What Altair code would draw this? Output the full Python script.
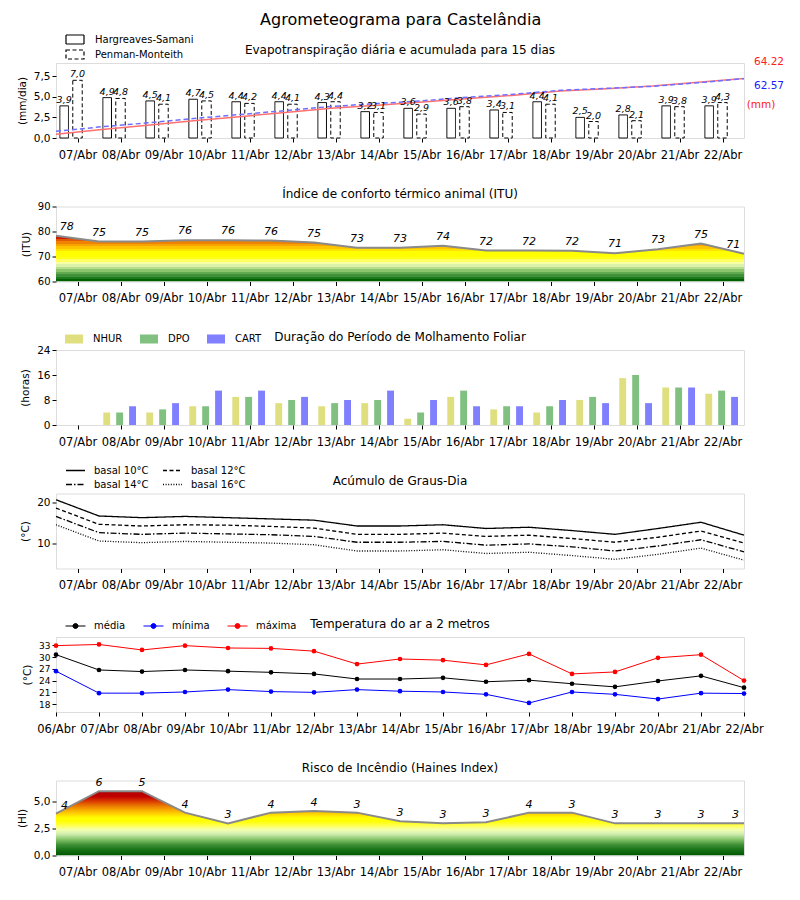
import json
import altair as alt
import pandas as pd

# ---------------- data ----------------
days16 = ["07/Abr", "08/Abr", "09/Abr", "10/Abr", "11/Abr", "12/Abr", "13/Abr", "14/Abr",
          "15/Abr", "16/Abr", "17/Abr", "18/Abr", "19/Abr", "20/Abr", "21/Abr", "22/Abr"]
days17 = ["06/Abr"] + days16

et_hs = [3.9, 4.9, 4.5, 4.7, 4.4, 4.4, 4.3, 3.2, 3.6, 3.6, 3.4, 4.4, 2.5, 2.8, 3.9, 3.9]
et_pm = [7.0, 4.8, 4.1, 4.5, 4.2, 4.1, 4.4, 3.1, 2.9, 3.8, 3.1, 4.1, 2.0, 2.1, 3.8, 4.3]
et_tot_labels = ["64.22", "62.57"]

itu_line = [78.3, 76.0, 76.0, 76.5, 76.5, 76.4, 75.6, 73.5, 73.5, 74.3, 72.4, 72.4, 72.3, 71.3, 72.9, 75.2, 71.1]
itu_lbl = [78, 75, 75, 76, 76, 76, 75, 73, 73, 74, 72, 72, 72, 71, 73, 75, 71]

nhur = [0, 4, 4, 6, 9, 7, 6, 7, 2, 9, 5, 4, 8, 15, 12, 10]
dpo = [0, 4, 5, 6, 9, 8, 7, 8, 4, 11, 6, 6, 9, 16, 12, 11]
cart = [0, 6, 7, 11, 11, 9, 8, 11, 8, 6, 6, 8, 7, 7, 12, 9]

gd10 = [20.6, 16.7, 16.3, 16.6, 16.3, 16.0, 15.7, 14.3, 14.3, 14.6, 13.7, 14.0, 13.2, 12.3, 13.7, 15.2, 12.1]
gd12 = [18.6, 14.7, 14.3, 14.6, 14.5, 14.2, 13.8, 12.3, 12.3, 12.6, 11.8, 12.1, 11.3, 10.4, 11.6, 13.1, 10.2]
gd14 = [16.6, 12.7, 12.3, 12.6, 12.4, 12.2, 11.8, 10.4, 10.4, 10.6, 9.7, 10.0, 9.3, 8.3, 9.5, 11.0, 8.1]
gd16 = [14.6, 10.7, 10.3, 10.6, 10.4, 10.2, 9.8, 8.3, 8.3, 8.6, 7.7, 8.0, 7.2, 6.3, 7.5, 9.0, 6.1]

t_med = [30.6, 26.7, 26.3, 26.7, 26.4, 26.1, 25.7, 24.4, 24.4, 24.7, 23.7, 24.1, 23.2, 22.4, 23.9, 25.2, 22.2]
t_min = [26.4, 20.8, 20.8, 21.1, 21.7, 21.2, 21.0, 21.7, 21.3, 21.1, 20.5, 18.3, 21.1, 20.5, 19.3, 20.8, 20.7]
t_max = [32.9, 33.2, 31.8, 32.9, 32.3, 32.2, 31.5, 28.2, 29.5, 29.2, 28.0, 30.8, 25.7, 26.2, 29.8, 30.6, 24.0]

hi_line = [3.9, 6.0, 6.0, 4.0, 3.0, 4.0, 4.15, 4.0, 3.2, 3.0, 3.1, 4.0, 4.0, 3.0, 3.0, 3.0, 3.0]
hi_lbl = [4, 6, 5, 4, 3, 4, 4, 3, 3, 3, 3, 4, 3, 3, 3, 3, 3]

panel_titles = ["Evapotranspiração diária e acumulada para 15 dias",
                "Índice de conforto térmico animal (ITU)",
                "Duração do Período de Molhamento Foliar",
                "Acúmulo de Graus-Dia",
                "Temperatura do ar a 2 metros",
                "Risco de Incêndio (Haines Index)"]

# ---------------- style ----------------
FONT = "DejaVu Sans"
W, H = 688, 75
XD16 = [-0.5, 15.5]
XD17 = [0, 16]
RECT = "M-1,-0.5L1,-0.5L1,0.5L-1,0.5Z"


def x_axis(labels):
    return alt.Axis(values=list(range(len(labels))),
                    labelExpr=json.dumps(labels) + "[round(datum.value)]",
                    grid=False, domain=False, ticks=True, tickSize=4, tickColor="black",
                    labelColor="black", labelFont=FONT, labelFontSize=11.5, labelPadding=7,
                    labelOverlap=False, labelFlush=False, title=None)


def y_axis(values, title, comma=False, size=10.5):
    kw = {}
    if comma:
        kw["labelExpr"] = "replace(format(datum.value, '.1f'), '.', ',')"
    return alt.Axis(values=values, title=title, grid=False, domain=False, tickSize=4,
                    tickColor="black", labelColor="black", labelFont=FONT, labelFontSize=size,
                    labelPadding=2, labelOverlap=False, labelFlush=False,
                    titleFont=FONT, titleFontSize=10.5, titleFontWeight="normal",
                    titleColor="black", titlePadding=6, **kw)


def title_layer(text):
    return alt.Chart(pd.DataFrame({"t": [text]})).mark_text(
        font=FONT, fontSize=12, color="black", baseline="middle", align="center"
    ).encode(text="t:N", x=alt.value(W / 2), y=alt.value(-13))


def xs(domain):
    return alt.Scale(domain=domain, nice=False, zero=False)


def gradient(stops, lo, hi):
    gs = [alt.GradientStop(color=c, offset=max(0.0, min(1.0, (v - lo) / (hi - lo)))) for v, c in stops]
    return alt.Gradient(gradient="linear", stops=gs, x1=0, x2=0, y1=1, y2=0)


def comma(v):
    return f"{v:.1f}".replace(".", ",")

# ---------------- panel 1: ET ----------------
series_et = ["Hargreaves-Samani", "Penman-Monteith"]
rows = []
for i, (h, p) in enumerate(zip(et_hs, et_pm)):
    rows.append(dict(serie=series_et[0], x0=i - 0.41, x1=i - 0.21, xc=i - 0.31, v=h, lbl=comma(h)))
    rows.append(dict(serie=series_et[1], x0=i - 0.11, x1=i + 0.11, xc=i, v=p, lbl=comma(p)))
et_df = pd.DataFrame(rows)

cum = []
for s, vals in zip(series_et, [et_hs, et_pm]):
    acc = 0.0
    for i, v in enumerate(vals):
        acc += v
        cum.append(dict(serie=s, xp=-0.5 + i * 16 / 15, c=acc))
cum_df = pd.DataFrame(cum)

ET_Y = alt.Scale(domain=[0, 9.1], nice=False, zero=True)
CUM_Y = alt.Scale(domain=[0, 78.7], nice=False)
AX1 = x_axis(days16)
ET_DASH = alt.Scale(domain=series_et, range=[[1, 0], [4, 2.5]])

et_bars = alt.Chart(et_df).mark_bar(fill="white", stroke="black", strokeWidth=1, cornerRadius=0).encode(
    x=alt.X("x0:Q", scale=xs(XD16), axis=AX1),
    x2="x1:Q",
    y=alt.Y("v:Q", scale=ET_Y, axis=y_axis([0, 2.5, 5, 7.5], "(mm/dia)", comma=True)),
    y2=alt.datum(0),
    strokeDash=alt.StrokeDash("serie:N", scale=ET_DASH, legend=None),
)
# empty layer that only carries the legend (outlined boxes)
et_leg = alt.Chart(et_df).transform_filter("false").mark_point(
    shape=RECT, filled=False, color="black", size=324, strokeWidth=1.2, opacity=1).encode(
    x=alt.X("xc:Q", scale=xs(XD16), axis=AX1),
    y=alt.Y("v:Q", scale=ET_Y, axis=None),
    strokeDash=alt.StrokeDash("serie:N", scale=ET_DASH, legend=alt.Legend(
        orient="none", legendX=9, legendY=-29, direction="vertical", title=None,
        symbolType=RECT, symbolSize=324, symbolFillColor="white",
        symbolStrokeColor="black", symbolStrokeWidth=1.2, labelFont=FONT, labelFontSize=10,
        labelColor="black", rowPadding=4, labelOffset=10, clipHeight=11)),
)
et_text = alt.Chart(et_df).mark_text(font=FONT, fontSize=9.5, fontStyle="italic", baseline="bottom",
                                     dy=-1, color="black").encode(
    x=alt.X("xc:Q", scale=xs(XD16), axis=AX1),
    y=alt.Y("v:Q", scale=ET_Y, axis=None),
    text="lbl:N",
)
et_line_h = alt.Chart(cum_df).transform_filter(alt.datum.serie == series_et[0]).mark_line(
    strokeWidth=1.5, color="#ff7070").encode(
    x=alt.X("xp:Q", scale=xs(XD16), axis=AX1),
    y=alt.Y("c:Q", scale=CUM_Y, axis=None),
)
et_line_p = alt.Chart(cum_df).transform_filter(alt.datum.serie == series_et[1]).mark_line(
    strokeWidth=1.5, color="#7070ff", strokeDash=[5, 3]).encode(
    x=alt.X("xp:Q", scale=xs(XD16), axis=AX1),
    y=alt.Y("c:Q", scale=CUM_Y, axis=None),
)
ann_df = pd.DataFrame(dict(t=et_tot_labels + ["(mm)"], c=["#ff2020", "#2020ff", "#ff2020"],
                           px=[W + 25, W + 25, W + 17], py=[-1, 23, 42]))
et_ann = alt.Chart(ann_df).mark_text(font=FONT, fontSize=10.5, align="center").encode(
    text="t:N",
    fill=alt.Fill("c:N", scale=None, legend=None),
    x=alt.X("px:Q", scale=None, axis=None),
    y=alt.Y("py:Q", scale=None, axis=None),
)
p1 = alt.layer(et_bars, et_line_h, et_line_p, et_text, et_ann, et_leg,
               title_layer(panel_titles[0])).resolve_scale(
    y="independent", strokeDash="independent"
).resolve_legend(strokeDash="independent").properties(width=W, height=H)

# ---------------- panel 2: ITU ----------------
itu_df = pd.DataFrame(dict(x=[i - 0.5 for i in range(17)], v=itu_line, lbl=[str(v) for v in itu_lbl]))
itu_df["lx"] = itu_df["x"].clip(-0.25, 15.25)
itu_bands = [(60, "#006000"), (61, "#006000"), (61, "#1f7a1f"), (62, "#1f7a1f"), (62, "#3f923a"),
             (63, "#3f923a"), (63, "#62ab50"), (64, "#62ab50"), (64, "#8cc66c"), (65, "#8cc66c"),
             (65, "#b6dd8c"), (66, "#b6dd8c"), (66, "#dcf2a8"), (67, "#dcf2a8"), (67, "#f6ffa6"),
             (68, "#f6ffa6"), (68, "#ffff60"), (69, "#ffff60"), (69, "#ffff1a"), (70, "#ffff1a"),
             (70, "#ffff00"), (72, "#ffff00"), (72, "#ffe200"), (73, "#ffe200"), (73, "#ffc400"),
             (74, "#ffc400"), (74, "#f7a400"), (75, "#f7a400"), (75, "#ef8200"), (76, "#ef8200"),
             (76, "#e25a00"), (77, "#e25a00"), (77, "#cc1a00"), (78, "#cc1a00"), (78, "#c00000"),
             (80, "#c00000")]
ITU_Y = alt.Scale(domain=[60, 90], nice=False, zero=False)
AX2 = x_axis(days16)
AY2 = y_axis([60, 70, 80, 90], "(ITU)", size=10)
itu_x = alt.X("x:Q", scale=xs(XD16), axis=AX2)
itu_y = alt.Y("v:Q", scale=ITU_Y, axis=AY2)
itu_area = alt.Chart(itu_df).mark_area(color=gradient(itu_bands, 60, max(itu_line)), clip=True).encode(
    x=itu_x, y=itu_y, y2=alt.datum(60))
itu_line_m = alt.Chart(itu_df).mark_line(color="#8a8a8a", strokeWidth=2).encode(x=itu_x, y=itu_y)
itu_text = alt.Chart(itu_df).mark_text(font=FONT, fontSize=11, fontStyle="italic", dy=-9,
                                       color="black").encode(
    x=alt.X("lx:Q", scale=xs(XD16), axis=AX2), y=itu_y, text="lbl:N")
p2 = alt.layer(itu_area, itu_line_m, itu_text, title_layer(panel_titles[1])).properties(width=W, height=H)

# ---------------- panel 3: Molhamento ----------------
series_m = ["NHUR", "DPO", "CART"]
offs = [-0.32, -0.02, 0.28]
rows = []
for i in range(16):
    for s, vals, o in zip(series_m, [nhur, dpo, cart], offs):
        rows.append(dict(serie=s, x0=i + o - 0.08, x1=i + o + 0.08, v=vals[i]))
m_df = pd.DataFrame(rows)
m_bars = alt.Chart(m_df).mark_rect().encode(
    x=alt.X("x0:Q", scale=xs(XD16), axis=x_axis(days16)),
    x2="x1:Q",
    y=alt.Y("v:Q", scale=alt.Scale(domain=[0, 24], nice=False), axis=y_axis([0, 8, 16, 24], "(horas)")),
    y2=alt.datum(0),
    color=alt.Color("serie:N", scale=alt.Scale(domain=series_m, range=["#dfdf80", "#80c080", "#8080ff"]),
                    legend=alt.Legend(orient="none", legendX=9, legendY=-17, direction="horizontal",
                                      title=None, symbolType=RECT, symbolSize=324,
                                      symbolStrokeWidth=0, labelFont=FONT, labelFontSize=10,
                                      labelColor="black", columnPadding=17, labelOffset=10,
                                      clipHeight=12)),
)
p3 = alt.layer(m_bars, title_layer(panel_titles[2])).properties(width=W, height=H)

# ---------------- panel 4: Graus-dia ----------------
series_g = ["basal 10°C", "basal 12°C", "basal 14°C", "basal 16°C"]
rows = []
for s, vals in zip(series_g, [gd10, gd12, gd14, gd16]):
    for i, v in enumerate(vals):
        rows.append(dict(serie=s, x=i - 0.5, v=v))
g_df = pd.DataFrame(rows)
g_lines = alt.Chart(g_df).mark_line(color="black", strokeWidth=1.3).encode(
    x=alt.X("x:Q", scale=xs(XD16), axis=x_axis(days16)),
    y=alt.Y("v:Q", scale=alt.Scale(domain=[4.1, 22.1], nice=False, zero=False),
            axis=y_axis([10, 20], "(°C)")),
    strokeDash=alt.StrokeDash("serie:N", scale=alt.Scale(
        domain=["basal 10°C", "basal 14°C", "basal 12°C", "basal 16°C"],
        range=[[1, 0], [6, 2, 1.5, 2], [4, 2.5], [1, 1.6]]),
        legend=alt.Legend(orient="none", legendX=9, legendY=-29, columns=2, title=None,
                          symbolType="stroke", symbolSize=361, symbolStrokeColor="black",
                          symbolStrokeWidth=1.3, labelFont=FONT, labelFontSize=10,
                          labelColor="black", columnPadding=13, rowPadding=2, labelOffset=8,
                          clipHeight=12)),
)
p4 = alt.layer(g_lines, title_layer(panel_titles[3])).properties(width=W, height=H)

# ---------------- panel 5: Temperatura ----------------
series_t = ["média", "mínima", "máxima"]
rows = []
for s, vals in zip(series_t, [t_med, t_min, t_max]):
    for i, v in enumerate(vals):
        rows.append(dict(serie=s, x=i, v=v))
t_df = pd.DataFrame(rows)
tcol = alt.Scale(domain=series_t, range=["#000000", "#0000ff", "#ff0000"])
T_Y = alt.Scale(domain=[16.0, 35.1], nice=False, zero=False)
AX5 = x_axis(days17)
AY5 = y_axis([18, 21, 24, 27, 30, 33], "(°C)", size=9)
t_leg = alt.Legend(orient="none", legendX=9, legendY=-17, direction="horizontal", title=None,
                   symbolType="M-1,0L1,0M-0.25,0A0.25,0.25,0,1,1,0.25,0A0.25,0.25,0,1,1,-0.25,0Z",
                   symbolSize=400, symbolStrokeWidth=1, labelFont=FONT, labelFontSize=10,
                   labelColor="black", columnPadding=17, labelOffset=8, clipHeight=12)
t_x = alt.X("x:Q", scale=xs(XD17), axis=AX5)
t_y = alt.Y("v:Q", scale=T_Y, axis=AY5)
t_lines = alt.Chart(t_df).mark_line(strokeWidth=1).encode(
    x=t_x, y=t_y, color=alt.Color("serie:N", scale=tcol, legend=t_leg))
t_pts = alt.Chart(t_df).mark_point(filled=True, size=22, opacity=1).encode(
    x=t_x, y=t_y, color=alt.Color("serie:N", scale=tcol, legend=t_leg))
p5 = alt.layer(t_lines, t_pts, title_layer(panel_titles[4])).properties(width=W, height=H)

# ---------------- panel 6: Haines ----------------
hi_df = pd.DataFrame(dict(x=[i - 0.5 for i in range(17)], v=hi_line, lbl=[str(v) for v in hi_lbl]))
hi_df["lx"] = hi_df["x"].clip(-0.3, 15.3)
hi_stops = [(0.0, "#005500"), (0.5, "#157015"), (1.0, "#3f8f35"), (1.5, "#86c46a"), (2.0, "#cfeeb0"),
            (2.4, "#f4ffb0"), (2.8, "#ffff50"), (3.2, "#ffff00"), (3.5, "#ffff00"), (3.9, "#ffd200"),
            (4.3, "#f6a400"), (4.7, "#e87000"), (5.1, "#d83400"), (5.5, "#c20000"), (6.0, "#b00000")]
HI_Y = alt.Scale(domain=[0, 7], nice=False)
AX6 = x_axis(days16)
AY6 = y_axis([0, 2.5, 5], "(HI)", comma=True)
hi_x = alt.X("x:Q", scale=xs(XD16), axis=AX6)
hi_y = alt.Y("v:Q", scale=HI_Y, axis=AY6)
hi_area = alt.Chart(hi_df).mark_area(color=gradient(hi_stops, 0, max(hi_line)), clip=True).encode(
    x=hi_x, y=hi_y, y2=alt.datum(0))
hi_line_m = alt.Chart(hi_df).mark_line(color="#8a8a8a", strokeWidth=2).encode(x=hi_x, y=hi_y)
hi_text = alt.Chart(hi_df).mark_text(font=FONT, fontSize=11, fontStyle="italic", dy=-8,
                                     color="black").encode(
    x=alt.X("lx:Q", scale=xs(XD16), axis=AX6), y=hi_y, text="lbl:N")
p6 = alt.layer(hi_area, hi_line_m, hi_text, title_layer(panel_titles[5])).properties(width=W, height=H)

# ---------------- assemble ----------------
chart = alt.vconcat(p1, p2, p3, p4, p5, p6, spacing=68.5, bounds="flush").resolve_scale(
    color="independent", strokeDash="independent", stroke="independent", fill="independent"
).resolve_legend(
    color="independent", strokeDash="independent", stroke="independent", fill="independent"
).properties(
    title=alt.TitleParams("Agrometeograma para Castelândia", font=FONT, fontSize=16,
                          fontWeight="normal", color="black", anchor="middle", offset=6),
    padding={"left": 8, "right": 5, "top": 3, "bottom": 5},
).configure_view(stroke="black", strokeWidth=1).configure(background="white")

chart.save("out.html", embed_options={"renderer": "svg", "actions": False})
